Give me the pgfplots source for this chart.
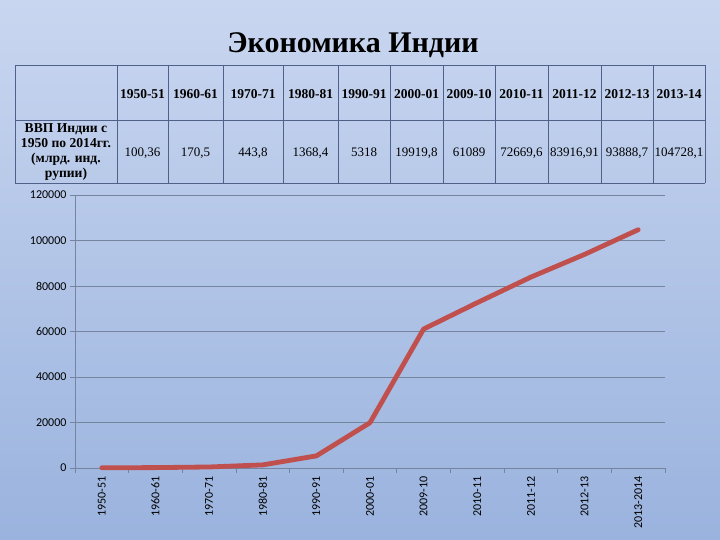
\documentclass[border=0pt]{standalone}
\usepackage{pgfplots}
\pgfplotsset{compat=1.18}
\usepackage{fontspec}
\setmainfont{Liberation Serif}
\newfontfamily\carl{Carlito}
\definecolor{bgtop}{HTML}{C9D6F0}
\definecolor{bgbot}{HTML}{9AB3DE}
\definecolor{tline}{HTML}{4F6188}
\definecolor{gridc}{HTML}{75859F}
\definecolor{exred}{HTML}{C0504D}
\begin{document}
\begin{tikzpicture}[x=1pt,y=1pt]
\shade[top color=bgtop, bottom color=bgbot] (0,0) rectangle (720,540);
% title
\node[anchor=base, font=\fontsize{30}{34}\selectfont\bfseries] at (353,487) {Экономика Индии};
% table grid
\draw[tline, line width=0.8pt] (15,475) -- (705,475) (15,420) -- (705,420) (15,357) -- (705,357);
\foreach \xx in {15,117,168,223,283,338,390,443,495,548,601,653,705}
  \draw[tline, line width=0.8pt] (\xx,475) -- (\xx,357);
% header row
\foreach \xa/\xb/\t in {117/168/1950-51,168/223/1960-61,223/283/1970-71,283/338/1980-81,338/390/1990-91,390/443/2000-01,443/495/2009-10,495/548/2010-11,548/601/2011-12,601/653/2012-13,653/705/2013-14}
  \node[anchor=base, font=\fontsize{13.5}{15}\selectfont\bfseries] at ({(\xa+\xb)/2},441.5) {\t};
\foreach \xa/\xb/\t in {117/168/{100,36},168/223/{170,5},223/283/{443,8},283/338/{1368,4},338/390/{5318},390/443/{19919,8},443/495/{61089},495/548/{72669,6},548/601/{83916,91},601/653/{93888,7},653/705/{104728,1}}
  \node[anchor=base, font=\fontsize{13}{15}\selectfont] at ({(\xa+\xb)/2},383.5) {\t};
\node[font=\fontsize{13.6}{15.3}\selectfont\bfseries, align=center] at (66,388) {ВВП Индии с\\1950 по 2014гг.\\(млрд. инд.\\рупии)};
\begin{axis}[
  at={(75pt,72pt)}, anchor=south west, scale only axis,
  width=590pt, height=273pt,
  xmin=-0.5, xmax=10.5, ymin=0, ymax=120000,
  ytick={0,20000,40000,60000,80000,100000,120000},
  scaled y ticks=false,
  /pgf/number format/fixed,
  /pgf/number format/1000 sep={},
  /pgf/number format/assume math mode=true,
  yticklabel style={font=\carl\fontsize{12}{13}\selectfont, /pgf/number format/fixed, /pgf/number format/1000 sep={}},
  xtick={0,...,10},
  xticklabels={1950-51,1960-61,1970-71,1980-81,1990-91,2000-01,2009-10,2010-11,2011-12,2012-13,2013-2014},
  x tick label style={rotate=90, anchor=east, font=\carl\fontsize{12}{13}\selectfont},
  minor xtick={-0.5,0.5,...,10.5},
  major x tick style={draw=none},
  tick align=outside, major tick length=5pt, minor tick length=5pt,
  tick style={gridc, line width=0.8pt},
  axis x line*=bottom, axis y line*=left,
  axis line style={-, gridc, line width=0.8pt},
  ymajorgrids, grid style={gridc, line width=0.8pt},
  clip=false,
]
\addplot[exred, line width=4.8pt, line join=round, line cap=round] coordinates {
(0,100.36) (1,170.5) (2,443.8) (3,1368.4) (4,5318) (5,19919.8) (6,61089) (7,72669.6) (8,83916.91) (9,93888.7) (10,104728.1)};
\end{axis}
\end{tikzpicture}
\end{document}
